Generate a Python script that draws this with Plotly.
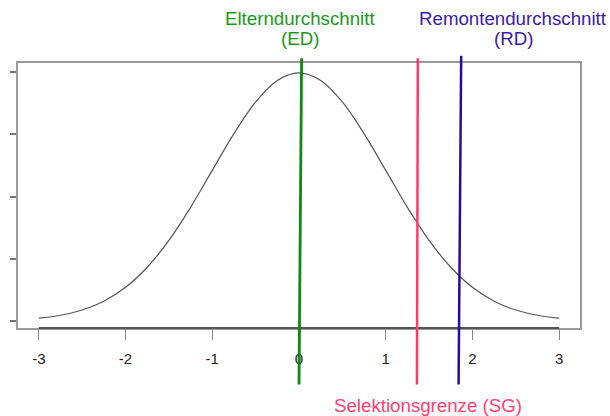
import plotly.graph_objects as go

# ---------------------------------------------------------------------------
# Data
# ---------------------------------------------------------------------------

# standard normal density curve
CURVE_X = [-3.0, -2.75, -2.5, -2.25, -2.0, -1.75, -1.5, -1.25, -1.0, -0.75, -0.5, -0.25,
           0.0, 0.25, 0.5, 0.75, 1.0, 1.25, 1.5, 1.75, 2.0, 2.25, 2.5, 2.75, 3.0]
CURVE_Y = [0.0044, 0.0091, 0.0175, 0.0317, 0.0540, 0.0863, 0.1295, 0.1826, 0.2420, 0.3011, 0.3521, 0.3867,
           0.3989, 0.3867, 0.3521, 0.3011, 0.2420, 0.1826, 0.1295, 0.0863, 0.0540, 0.0317, 0.0175, 0.0091, 0.0044]

X_TICKS = [-3, -2, -1, 0, 1, 2, 3]
X_TICK_TEXT = ["-3", "-2", "-1", "0", "1", "2", "3"]
Y_TICKS = [0.0, 0.1, 0.2, 0.3, 0.4]

# marker lines: Elterndurchschnitt, Selektionsgrenze, Remontendurchschnitt
LINE_KEYS = ["ED", "SG", "RD"]
LINE_X_TOP = [0.03, 1.37, 1.87]
LINE_X_BOTTOM = [0.0, 1.36, 1.84]

LABEL_KEYS = ["ED", "RD", "SG"]
LABEL_LINE1 = ["Elterndurchschnitt", "Remontendurchschnitt", "Selektionsgrenze (SG)"]
LABEL_LINE2 = ["(ED)", "(RD)", ""]
LABEL_X = [0.01, 2.47, 1.49]

# ---------------------------------------------------------------------------
# Style
# ---------------------------------------------------------------------------

LINE_COLOR = {"ED": "#0e8a0e", "SG": "#ff3a6a", "RD": "#2a0a9e"}
TEXT_COLOR = {"ED": "#1a981a", "SG": "#ff4070", "RD": "#3a1aa8"}
LINE_WIDTH = {"ED": 2.8, "SG": 2.5, "RD": 2.5}
LINE_TOP = {"ED": 1.018, "SG": 1.018, "RD": 1.027}
LINE_BOTTOM = -0.213

FRAME = "#9a9a9a"
TEXT_FONT = "Liberation Sans, Arial, sans-serif"
TICK_FONT = "Liberation Sans Narrow, Arial Narrow, Liberation Sans, sans-serif"

fig = go.Figure()

fig.add_trace(go.Scatter(
    x=CURVE_X, y=CURVE_Y,
    mode="lines",
    line=dict(color="#555555", width=1.2, shape="spline", smoothing=1.0),
    showlegend=False,
    hoverinfo="skip",
))

# dark axis segment between the outer ticks
fig.add_shape(
    type="line", xref="x", yref="paper",
    x0=X_TICKS[0], x1=X_TICKS[-1], y0=0, y1=0,
    line=dict(color="#555555", width=2), layer="above",
)

for key, xt, xb in zip(LINE_KEYS, LINE_X_TOP, LINE_X_BOTTOM):
    fig.add_shape(
        type="line", xref="x", yref="paper",
        x0=xt, x1=xb, y0=LINE_TOP[key], y1=LINE_BOTTOM,
        line=dict(color=LINE_COLOR[key], width=LINE_WIDTH[key]),
        layer="above",
    )

LABEL_Y1 = {"ED": 1.1695, "RD": 1.1695, "SG": -0.291}
LABEL_Y2 = 1.093
for key, t1, t2, lx in zip(LABEL_KEYS, LABEL_LINE1, LABEL_LINE2, LABEL_X):
    fig.add_annotation(
        x=lx, y=LABEL_Y1[key], xref="x", yref="paper",
        text=t1, showarrow=False, xanchor="center", yanchor="middle",
        font=dict(family=TEXT_FONT, size=18.7, color=TEXT_COLOR[key]),
    )
    if t2:
        fig.add_annotation(
            x=lx, y=LABEL_Y2, xref="x", yref="paper",
            text=t2, showarrow=False, xanchor="center", yanchor="middle",
            font=dict(family=TEXT_FONT, size=18.7, color=TEXT_COLOR[key]),
        )

fig.update_xaxes(
    range=[-3.24, 3.24],
    tickvals=X_TICKS, ticktext=X_TICK_TEXT,
    ticks="outside", ticklen=10, tickwidth=1, tickcolor="#888888",
    ticklabelstandoff=6,
    tickfont=dict(family=TICK_FONT, size=15, color="#222222"),
    showgrid=False, zeroline=False,
    showline=True, mirror=True, linecolor=FRAME, linewidth=1.5,
)
fig.update_yaxes(
    range=[-0.0114, 0.4147],
    tickvals=Y_TICKS, showticklabels=False,
    ticks="outside", ticklen=6, tickwidth=1.5, tickcolor="#777777",
    showgrid=False, zeroline=False,
    showline=True, mirror=True, linecolor=FRAME, linewidth=1.5,
)

fig.update_layout(
    width=610, height=416,
    margin=dict(l=14, r=30, t=63, b=88),
    plot_bgcolor="#ffffff",
    paper_bgcolor="#ffffff",
    font=dict(family=TEXT_FONT),
    showlegend=False,
)

# the page body has a default 8px margin; drop it so the figure sits at (0, 0)
fig.write_html(
    "out.html",
    config={"displayModeBar": False},
    post_script="document.body.style.margin = '0';",
)
